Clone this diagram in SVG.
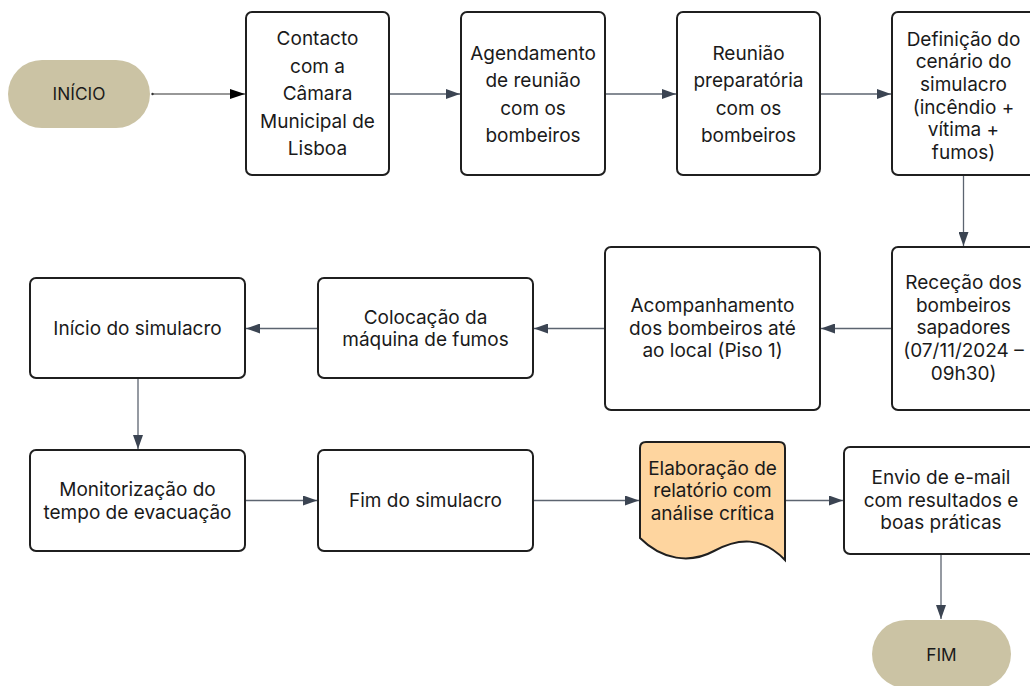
<svg xmlns="http://www.w3.org/2000/svg" width="1030" height="686" viewBox="0 0 1030 686">
<defs>
<style>
.box{fill:#ffffff;stroke:#1f1f1f;stroke-width:2}
.term{fill:#cbc3a4;stroke:none}
.doc{fill:#fed59f;stroke:#1f1f1f;stroke-width:2}
.t{font-family:Inter,"Noto Sans","Liberation Sans",sans-serif;font-size:19px;fill:#1a1a1a;text-anchor:middle}
.tt{font-family:Inter,"Noto Sans","Liberation Sans",sans-serif;font-size:17.3px;fill:#1a1a1a;text-anchor:middle}
.c{fill:none;stroke:#5c6470;stroke-width:1.3}
.c0{fill:none;stroke:#333333;stroke-width:1.2}
</style>
<marker id="ah" markerUnits="userSpaceOnUse" markerWidth="14" markerHeight="10" refX="14" refY="5" orient="auto">
<path d="M0,0 L14,5 L0,10 Z" fill="#3b4452"/>
</marker>
<marker id="ah0" markerUnits="userSpaceOnUse" markerWidth="15" markerHeight="10" refX="15" refY="5" orient="auto">
<path d="M0,0 L15,5 L0,10 Z" fill="#000000"/>
</marker>
</defs>
<rect width="1030" height="686" fill="#ffffff"/>

<g id="connectors">
<circle cx="152.5" cy="94" r="1.2" fill="#333"/>
<line class="c0" x1="152" y1="94" x2="245" y2="94" marker-end="url(#ah0)"/>
<line class="c" x1="390" y1="94" x2="460" y2="94" marker-end="url(#ah)"/>
<line class="c" x1="606" y1="94" x2="676" y2="94" marker-end="url(#ah)"/>
<line class="c" x1="821" y1="94" x2="891" y2="94" marker-end="url(#ah)"/>
<line class="c" x1="963.5" y1="176" x2="963.5" y2="246" marker-end="url(#ah)"/>
<line class="c" x1="891" y1="328.5" x2="821" y2="328.5" marker-end="url(#ah)"/>
<line class="c" x1="604" y1="328.5" x2="534" y2="328.5" marker-end="url(#ah)"/>
<line class="c" x1="317" y1="328.5" x2="246" y2="328.5" marker-end="url(#ah)"/>
<line class="c" x1="138" y1="379" x2="138" y2="449" marker-end="url(#ah)"/>
<line class="c" x1="246" y1="500.5" x2="317" y2="500.5" marker-end="url(#ah)"/>
<line class="c" x1="534" y1="500.5" x2="639" y2="500.5" marker-end="url(#ah)"/>
<line class="c" x1="785" y1="500.5" x2="843" y2="500.5" marker-end="url(#ah)"/>
<line class="c" x1="941" y1="555" x2="941" y2="619" marker-end="url(#ah)"/>
</g>

<g id="inicio">
<rect class="term" x="8" y="60" width="142" height="68" rx="34"/>
<text class="tt" x="79" y="100">INÍCIO</text>
</g>

<g id="contacto">
<rect class="box" x="246" y="12" width="143" height="163" rx="6"/>
<text class="t" x="317.5" y="45">Contacto</text>
<text class="t" x="317.5" y="72.5">com a</text>
<text class="t" x="317.5" y="100">Câmara</text>
<text class="t" x="317.5" y="127.5">Municipal de</text>
<text class="t" x="317.5" y="155">Lisboa</text>
</g>

<g id="agendamento">
<rect class="box" x="461" y="12" width="144" height="163" rx="6"/>
<text class="t" x="533" y="59.5">Agendamento</text>
<text class="t" x="533" y="87">de reunião</text>
<text class="t" x="533" y="114.5">com os</text>
<text class="t" x="533" y="142">bombeiros</text>
</g>

<g id="reuniao">
<rect class="box" x="677" y="12" width="143" height="163" rx="6"/>
<text class="t" x="748.5" y="59.5">Reunião</text>
<text class="t" x="748.5" y="87">preparatória</text>
<text class="t" x="748.5" y="114.5">com os</text>
<text class="t" x="748.5" y="142">bombeiros</text>
</g>

<g id="definicao">
<rect class="box" x="892" y="12" width="143" height="163" rx="6"/>
<text class="t" x="963.5" y="45.5">Definição do</text>
<text class="t" x="963.5" y="68.2">cenário do</text>
<text class="t" x="963.5" y="90.9">simulacro</text>
<text class="t" x="963.5" y="113.6">(incêndio +</text>
<text class="t" x="963.5" y="136.3">vítima +</text>
<text class="t" x="963.5" y="159">fumos)</text>
</g>

<g id="rececao">
<rect class="box" x="892" y="247" width="143" height="163" rx="6"/>
<text class="t" x="963.5" y="289">Receção dos</text>
<text class="t" x="963.5" y="311.7">bombeiros</text>
<text class="t" x="963.5" y="334.4">sapadores</text>
<text class="t" x="963.5" y="357.1">(07/11/2024 –</text>
<text class="t" x="963.5" y="379.8">09h30)</text>
</g>

<g id="acompanhamento">
<rect class="box" x="605" y="247" width="215" height="163" rx="6"/>
<text class="t" x="712.5" y="312">Acompanhamento</text>
<text class="t" x="712.5" y="334.7">dos bombeiros até</text>
<text class="t" x="712.5" y="357.4">ao local (Piso 1)</text>
</g>

<g id="colocacao">
<rect class="box" x="318" y="278" width="215" height="100" rx="6"/>
<text class="t" x="425.5" y="323.5">Colocação da</text>
<text class="t" x="425.5" y="346.2">máquina de fumos</text>
</g>

<g id="inicio-simulacro">
<rect class="box" x="30" y="278" width="215" height="100" rx="6"/>
<text class="t" x="137.5" y="334.5">Início do simulacro</text>
</g>

<g id="monitorizacao">
<rect class="box" x="30" y="450" width="215" height="101" rx="6"/>
<text class="t" x="137.5" y="496">Monitorização do</text>
<text class="t" x="137.5" y="518.7">tempo de evacuação</text>
</g>

<g id="fim-simulacro">
<rect class="box" x="318" y="450" width="215" height="101" rx="6"/>
<text class="t" x="425.5" y="507">Fim do simulacro</text>
</g>

<g id="relatorio">
<path class="doc" d="M640,448 Q640,442 646,442 L779,442 Q785,442 785,448 L785,560 C762,536 738,538 714,551 C690,564 662,560 640,538 Z"/>
<text class="t" x="712.5" y="474.5">Elaboração de</text>
<text class="t" x="712.5" y="497.2">relatório com</text>
<text class="t" x="712.5" y="519.9">análise crítica</text>
</g>

<g id="envio">
<rect class="box" x="844" y="447" width="194" height="107" rx="6"/>
<text class="t" x="941" y="484">Envio de e-mail</text>
<text class="t" x="941" y="506.7">com resultados e</text>
<text class="t" x="941" y="529.4">boas práticas</text>
</g>

<g id="fim">
<rect class="term" x="872" y="620" width="139" height="68" rx="34"/>
<text class="tt" x="941.5" y="660.5">FIM</text>
</g>
</svg>
